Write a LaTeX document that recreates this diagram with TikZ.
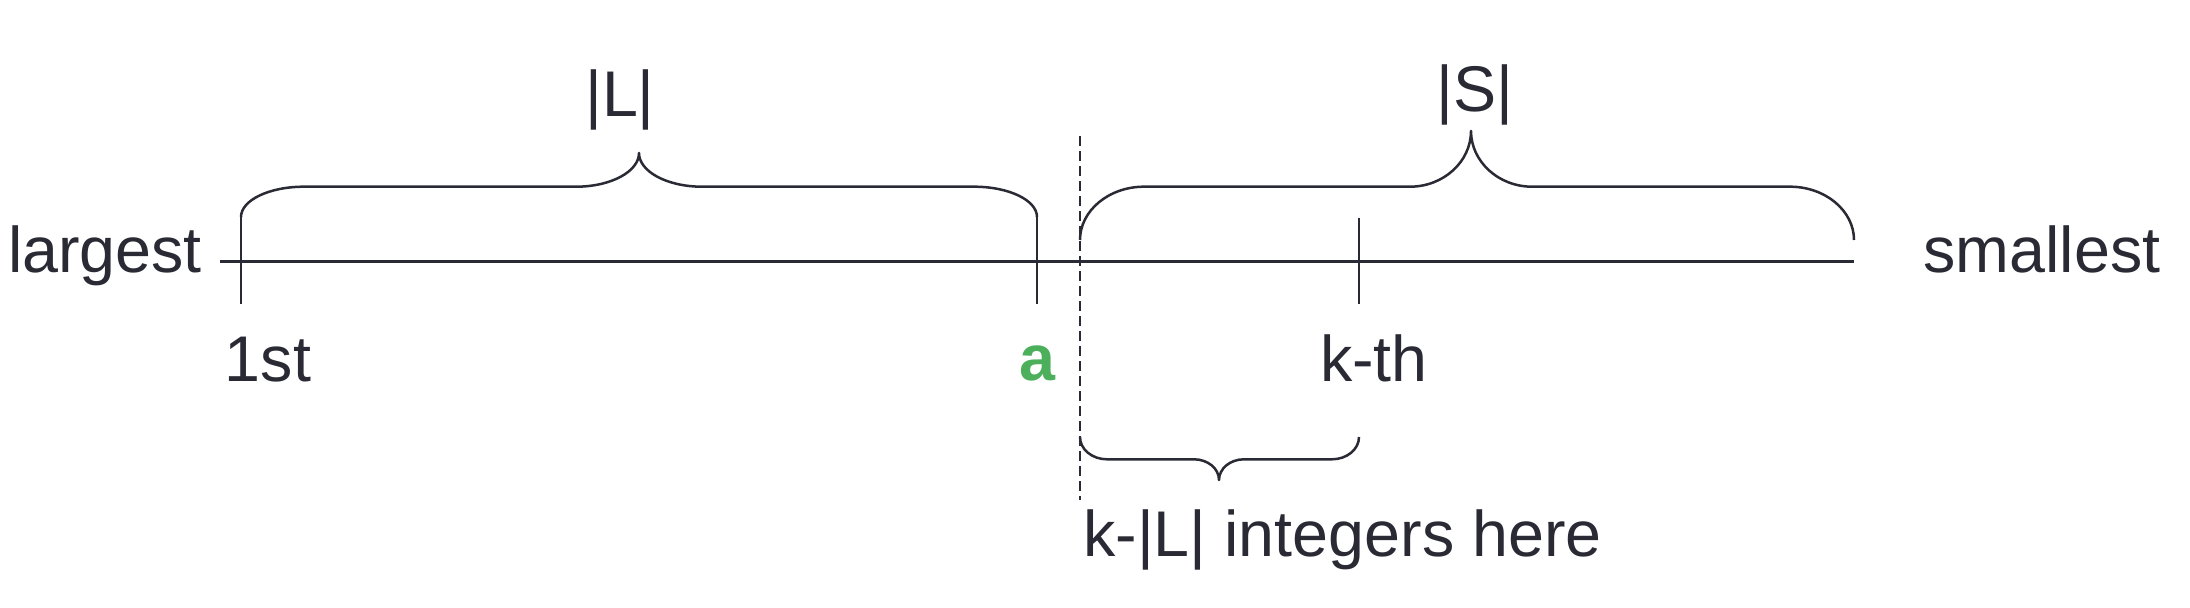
\documentclass[tikz,border=0pt]{standalone}
\usepackage{fontspec}
\setmainfont{Liberation Sans}
\definecolor{ink}{HTML}{2A2A35}
\definecolor{agreen}{HTML}{4CAF5C}
\begin{document}
\begin{tikzpicture}[x=0.5pt,y=-0.5pt,
  lbl/.style={font=\fontsize{32.3}{38}\selectfont, text=ink, inner sep=0pt, anchor=base},
  boldlbl/.style={lbl, font=\fontsize{32.3}{38}\selectfont\bfseries},
  axis/.style={draw=ink, line width=1.4pt},
  tickline/.style={draw=ink, line width=1.2pt},
  brace/.style={draw=ink, line width=1.25pt, line join=round},
  guide/.style={draw=ink, line width=1.3pt, dash pattern=on 5pt off 2.5pt}]
\useasboundingbox (0,0) rectangle (2190,608);

% labels
\node[lbl] (largest) at (105,273) {largest};
\node[lbl] (smallest) at (2042,273) {smallest};
\node[lbl] (first) at (268,382) {1st};
\node[boldlbl, text=agreen] (a) at (1037,381) {a};
\node[lbl] (kth) at (1374,382) {k-th};
\node[lbl] (Lsize) at (620,117) {|L|};
\node[lbl] (Ssize) at (1475,112) {|S|};
\node[lbl] (count) at (1342.5,557) {k-|L| integers here};

% axis
\coordinate (lineL) at (220,261.7);
\coordinate (lineR) at (1854,261.7);
\draw[axis] (lineL) -- (lineR);

% ticks
\coordinate (t1top) at (241,217);  \coordinate (t1bot) at (241,304);
\coordinate (tatop) at (1037,217); \coordinate (tabot) at (1037,304);
\coordinate (tktop) at (1359,218); \coordinate (tkbot) at (1359,304);
\draw[tickline] (t1top) -- (t1bot);
\draw[tickline] (tatop) -- (tabot);
\draw[tickline] (tktop) -- (tkbot);

% dashed separator
\coordinate (dtop) at (1080,136);
\coordinate (dbot) at (1080,500);
\draw[guide] (dtop) -- (dbot);

% brace |L|
\coordinate (LtipB) at (639,153);
\draw[brace] (t1top) .. controls (241,200.3) and (269,186.7) .. (304,186.7)
  -- (576,186.7) .. controls (611,186.7) and (639,171.5) .. (LtipB)
  .. controls (639,171.5) and (667,186.7) .. (702,186.7)
  -- (974,186.7) .. controls (1009,186.7) and (1037,200.3) .. (tatop);

% brace |S|
\coordinate (Sstart) at (1080,240);
\coordinate (Send) at (1854,240);
\coordinate (StipB) at (1471,131);
\draw[brace] (Sstart) .. controls (1080,210.7) and (1108.8,186.7) .. (1144,186.7)
  -- (1410,186.7) .. controls (1443.5,186.7) and (1471,161.6) .. (StipB)
  .. controls (1471,161.6) and (1498.5,186.7) .. (1532,186.7)
  -- (1790,186.7) .. controls (1825.2,186.7) and (1854,210.7) .. (Send);

% brace k-|L|
\coordinate (Kstart) at (1080,437);
\coordinate (Kend) at (1359,437);
\coordinate (KtipB) at (1219,480);
\draw[brace] (Kstart) .. controls (1080,449.3) and (1092.1,459.3) .. (1107,459.3)
  -- (1194,459.3) .. controls (1207.8,459.3) and (1219,468.6) .. (KtipB)
  .. controls (1219,468.6) and (1230.2,459.3) .. (1244,459.3)
  -- (1332,459.3) .. controls (1346.9,459.3) and (1359,449.3) .. (Kend);
\end{tikzpicture}
\end{document}
